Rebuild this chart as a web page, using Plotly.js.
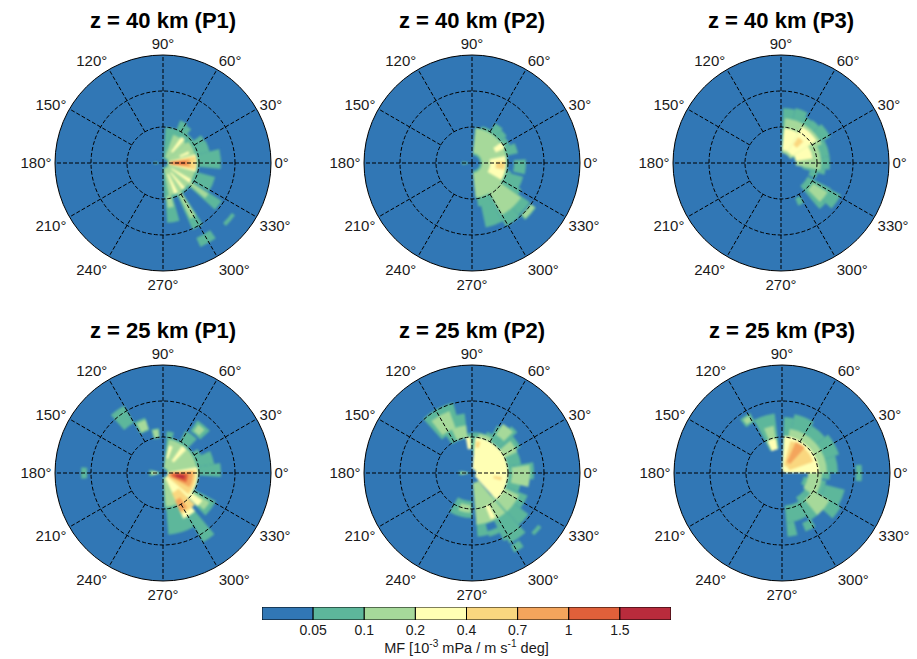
<!DOCTYPE html>
<html><head><meta charset="utf-8">
<script src="https://cdn.plot.ly/plotly-3.0.1.min.js"></script>
<style>html,body{margin:0;padding:0;background:#fff}#c{width:917px;height:659px}</style>
</head><body><div id="c"></div>
<script>
// colour classes of momentum flux
const levelColors=['#3177b5','#5db79b','#a6d99a','#ffffb4','#fad77f','#f4a55c','#e0603a','#b92b3c'];
const levelLabels=['0.05','0.1','0.2','0.4','0.7','1','1.5'];
const angleTicks=[0,30,60,90,120,150,180,210,240,270,300,330];
const longSpokes=[0,90,180,270];
const shortSpokes=[30,60,120,150,210,240,300,330];
const ringRadii=[36,72];
const rMax=108;

// wedges: [class, angle from, angle to, radius from, radius to]
const z40P1=[
[1,-88,86,4,36],[1,58,68,30,46],[1,50,58,30,44],[1,36,50,30,38],[1,28,36,30,47],[1,14,28,30,48],[1,-6,14,30,58],
[1,-32,-15,36,54],[1,-42,-33,30,70],[1,-66,-57,30,73],[1,-86,-74,30,60],[1,-66,-55,82,92],[1,-45,-36,85,89],[1,172,188,5,9],
[2,-80,40,6,33],[2,40,70,6,30],[2,-40,-34,33,55],[2,-64,-58,33,62],[2,-84,-76,33,45],
[3,-15,15,6,34],[3,47,55,14,32],[3,-37,-30,10,33],[3,-54,-48,12,33],[3,-70,-63,12,33],[3,19,25,18,28],
[4,-12,12,6,33],[5,-8,8,7,27],[6,-4,4,9,23]];
const z40P2=[
[1,-84,85,8,36],[1,60,75,30,38],[1,48,60,30,46],[1,38,48,30,44],[1,25,38,30,42],[1,12,25,30,47],[1,-12,4,42,54],[1,-30,-15,34,53],
[1,-30,-12,30,40],[1,-36,-28,36,56],[1,-48,-34,32,70],[1,-62,-48,30,72],[1,-78,-62,30,66],[1,-82,-72,28,44],[1,-47,-35,71,78],[1,172,190,4,10],
[2,-84,84,10,35],[2,-60,-35,35,60],[2,-46,-35,72,77],
[3,-30,12,18,34],[3,24,35,26,36],[4,-12,3,24,33]];
const z40P3=[
[1,75,88,12,55],[1,62,75,12,57],[1,54,62,10,52],[1,44,54,10,53],[1,28,44,12,56],[1,8,28,14,49],[1,-8,8,18,49],[1,-15,-8,22,45],[1,-24,-15,30,38],
[1,-50,-27,30,56],[1,-42,-28,45,68],[1,-50,-42,44,60],[1,-68,-60,38,46],
[2,25,85,10,45],[2,-10,25,15,40],[2,-45,-32,38,55],
[3,32,60,13,42],[3,60,85,13,35],[3,8,32,15,32],[4,44,56,22,31]];
const z25P1=[
[1,-88,84,4,36],[1,25,35,30,42],[1,10,25,30,52],[1,-4,10,30,58],[1,-45,-28,30,60],[1,-60,-50,30,80],[1,-85,-60,30,62],
[1,45,62,36,48],[1,42,57,50,63],[1,75,85,35,42],[1,120,132,58,78],[1,108,120,45,58],[1,95,105,35,45],[1,165,195,3,14],[1,176,184,76,82],
[2,-85,80,5,34],[2,108,118,46,56],[2,96,104,36,44],[2,46,54,52,60],[2,-42,-32,35,55],[2,170,190,5,12],
[3,-65,10,5,35],[3,45,55,15,33],[3,70,78,15,28],[3,-66,-50,33,50],[3,-44,-35,35,48],[3,174,186,6,10],
[4,-40,5,6,33],[4,-66,-45,22,45],[5,-28,3,6,30],[5,-66,-55,30,42],[6,-22,-2,9,25],[7,-16,-6,13,22]];
const z25P2=[
[1,105,132,45,73],[1,97,125,35,60],[1,88,97,24,40],[1,70,88,20,41],[1,62,70,30,44],[1,50,62,30,54],[1,42,50,30,61],[1,28,42,30,55],[1,10,28,30,50],
[1,-6,10,30,62],[1,-22,-6,30,50],[1,-36,-22,30,60],[1,-48,-36,30,70],[1,-62,-48,30,80],[1,-65,-62,30,75],[1,-65,-85,30,53],[1,-85,-75,50,64],[1,-65,-62,60,66],[1,-75,-65,60,66],
[1,-45,-38,84,88],[1,-62,-55,82,90],[1,170,190,3,13],[1,240,270,28,45],
[2,110,128,48,66],[2,97,115,36,48],[2,-85,-50,10,52],[2,-48,-25,36,52],[2,-14,8,40,58],[2,25,40,35,50],[2,45,58,45,58],[2,172,188,5,11],[2,250,268,32,40],[2,60,80,36,40],
[3,-48,85,4,36],[3,92,100,24,36],[3,-68,-62,36,50],
[4,75,82,26,32],[4,-14,-8,22,30]];
const z25P3=[
[1,118,128,58,68],[1,97,118,25,60],[1,78,88,4,56],[1,58,78,4,60],[1,40,58,4,56],[1,18,40,4,60],[1,0,18,4,56],[1,-8,0,27,48],[1,-6,6,74,80],
[1,-30,-10,22,45],[1,-30,-15,45,65],[1,-42,-30,28,68],[1,-60,-42,28,55],[1,-85,-60,33,50],[1,-85,-76,50,64],[1,-68,-58,54,63],
[2,100,112,30,48],[2,0,80,4,45],[2,-35,0,26,40],[2,-50,-30,35,55],[2,120,126,60,66],
[3,0,87,2,37],[3,100,115,24,35],[4,20,75,8,33],[5,48,66,12,34]];

const panels=[
 {title:'z = 40 km (P1)',rows:z40P1,cx:163,cy:163},
 {title:'z = 40 km (P2)',rows:z40P2,cx:472,cy:163},
 {title:'z = 40 km (P3)',rows:z40P3,cx:781,cy:163},
 {title:'z = 25 km (P1)',rows:z25P1,cx:163,cy:473},
 {title:'z = 25 km (P2)',rows:z25P2,cx:472,cy:473},
 {title:'z = 25 km (P3)',rows:z25P3,cx:782,cy:473}];

const W=917,H=659,traces=[],layout={width:W,height:H,margin:{l:0,r:0,t:0,b:0},paper_bgcolor:'#fff',showlegend:false,
  font:{family:'"Liberation Sans",Arial,sans-serif',color:'#1a1a1a'},annotations:[]};
const dash='4px,2px';
const ringTheta=[];for(let a=0;a<=360;a+=3)ringTheta.push(a);

panels.forEach((p,i)=>{
  const id=i?'polar'+(i+1):'polar';
  layout[id]={
    domain:{x:[(p.cx-rMax)/W,(p.cx+rMax)/W],y:[1-(p.cy+rMax)/H,1-(p.cy-rMax)/H]},
    bgcolor:levelColors[0],barmode:'overlay',
    radialaxis:{visible:false,range:[0,rMax]},
    angularaxis:{tickmode:'array',tickvals:angleTicks,ticktext:angleTicks.map(a=>a+'°'),showgrid:false,ticks:'',
      linecolor:'#000',linewidth:1,tickfont:{size:15,color:'#1a1a1a'}}};
  layout.annotations.push({text:'<b>'+p.title+'</b>',xref:'paper',yref:'paper',x:p.cx/W,y:1-(p.cy-142.5)/H,
    xanchor:'center',yanchor:'middle',showarrow:false,font:{size:22,color:'#000'}});
  for(let lv=1;lv<levelColors.length;lv++){
    const rs=p.rows.filter(r=>r[0]===lv);
    if(!rs.length)continue;
    traces.push({type:'barpolar',subplot:id,hoverinfo:'skip',
      theta:rs.map(r=>(r[1]+r[2])/2),width:rs.map(r=>Math.abs(r[2]-r[1])),
      base:rs.map(r=>r[3]),r:rs.map(r=>r[4]-r[3]),
      marker:{color:levelColors[lv],line:{width:0}}});
  }
  const line={color:'#000',width:1,dash:dash};
  ringRadii.forEach(rr=>traces.push({type:'scatterpolar',subplot:id,mode:'lines',hoverinfo:'skip',line:line,
    theta:ringTheta,r:ringTheta.map(()=>rr)}));
  longSpokes.forEach(a=>traces.push({type:'scatterpolar',subplot:id,mode:'lines',hoverinfo:'skip',line:line,theta:[a,a],r:[0,rMax]}));
  shortSpokes.forEach(a=>traces.push({type:'scatterpolar',subplot:id,mode:'lines',hoverinfo:'skip',line:line,theta:[a,a],r:[ringRadii[0],rMax]}));
});

// colour bar
levelColors.forEach((c,i)=>traces.push({type:'bar',orientation:'h',x:[1],y:[0],base:[i],xaxis:'x',yaxis:'y',hoverinfo:'skip',
  width:[1],marker:{color:c,line:{color:'#000',width:1}}}));
layout.barmode='overlay';
layout.xaxis={domain:[262/W,671/W],range:[0,8],anchor:'y',tickmode:'array',tickvals:levelLabels.map((_,i)=>i+1),ticktext:levelLabels,
  ticks:'',tickfont:{size:14,color:'#1a1a1a'},showgrid:false,zeroline:false,fixedrange:true,ticklabelstandoff:0,
  title:{text:'MF [10<sup>-3</sup> mPa / m s<sup>-1</sup> deg]',font:{size:14.5,color:'#1a1a1a'},standoff:0},automargin:false};
layout.yaxis={domain:[1-620/H,1-607/H],range:[-0.5,0.5],anchor:'x',showticklabels:false,ticks:'',showgrid:false,zeroline:false,fixedrange:true};
Plotly.newPlot('c',traces,layout,{displayModeBar:false,staticPlot:true}).then(()=>{
  // the reference heat field has soft edges
  document.querySelectorAll('.frontplot .barlayer').forEach(g=>{
    if(g.closest('.cartesianlayer'))return;
    g.style.filter='blur(1.3px)';
  });
});
</script></body></html>
